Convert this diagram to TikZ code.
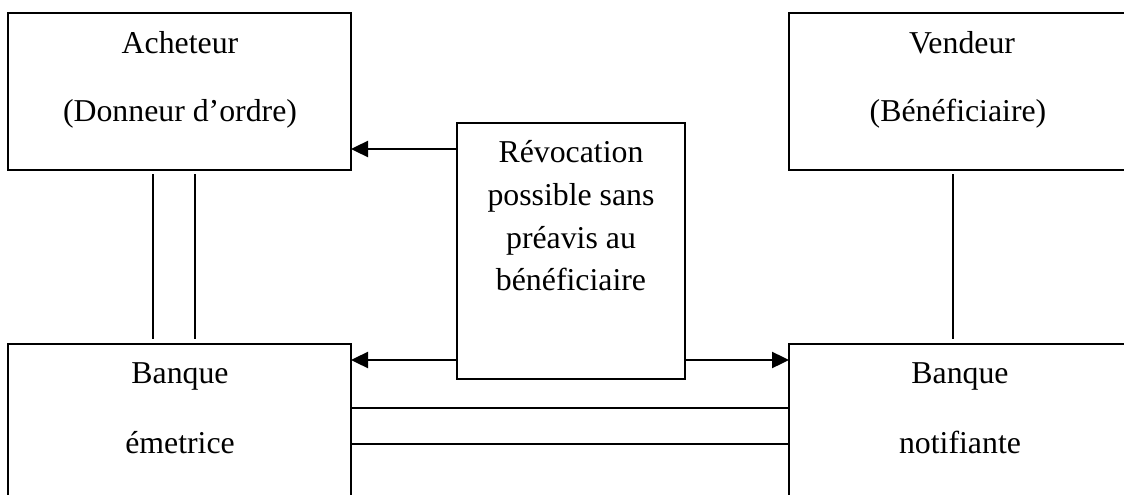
\documentclass[tikz,border=0pt]{standalone}
\usepackage{fontspec}
\setmainfont{Liberation Serif}
\usetikzlibrary{arrows.meta}

\begin{document}
\begin{tikzpicture}[x=1pt, y=-1pt,
    box/.style={draw, line width=2pt, rectangle, inner sep=0pt, outer sep=0pt},
    midbox/.style={draw, line width=1.6pt, rectangle, inner sep=0pt, outer sep=0pt},
    lbl/.style={font=\fontsize{31.8}{42.7}\selectfont, inner sep=0pt, anchor=base},
    link/.style={line width=1.4pt},
    revoke/.style={line width=2.4pt, -{Triangle[length=17pt, width=16pt]}}]
  \useasboundingbox (0,0) rectangle (1124,495);
  \clip (0,0) rectangle (1124,495);

  % parties and banks (the right and lower boxes run past the frame)
  \node[box, minimum width=343pt, minimum height=157pt] (ach)   at (179.5, 91.5) {};
  \node[box, minimum width=351pt, minimum height=157pt] (vend)  at (964.5, 91.5) {};
  \node[box, minimum width=343pt, minimum height=166pt] (eme)   at (179.5, 427)  {};
  \node[box, minimum width=351pt, minimum height=166pt] (notif) at (964.5, 427)  {};
  \node[midbox, minimum width=228pt, minimum height=256pt] (rev) at (571, 251) {};

  % box texts
  \node[lbl] (achA) at (180, 53)  {Acheteur};
  \node[lbl] (achB) at (180, 121) {(Donneur d’ordre)};
  \node[lbl] (venA) at (962, 53)  {Vendeur};
  \node[lbl] (venB) at (958, 121) {(Bénéficiaire)};
  \node[lbl] (emeA) at (180, 383) {Banque};
  \node[lbl] (emeB) at (180, 453) {émetrice};
  \node[lbl] (notA) at (960, 383) {Banque};
  \node[lbl] (notB) at (960, 453) {notifiante};
  \node[font=\fontsize{31.8}{42.7}\selectfont, align=center, inner sep=0pt]
    (revtxt) at (571, 216) {Révocation\\possible sans\\préavis au\\bénéficiaire};

  % buyer -- issuing bank (double line)
  \draw[link, shorten <=4pt, shorten >=5pt] (ach.south -| 153,0) -- (eme.north -| 153,0);
  \draw[link, shorten <=4pt, shorten >=5pt] (ach.south -| 195,0) -- (eme.north -| 195,0);
  % seller -- notifying bank
  \draw[link, shorten <=4pt, shorten >=5pt] (vend.south -| 953,0) -- (notif.north -| 953,0);
  % issuing bank -- notifying bank (double line)
  \draw[link] (eme.east |- 0,408) -- (notif.west |- 0,408);
  \draw[link] (eme.east |- 0,444) -- (notif.west |- 0,444);

  % revocation arrows
  \draw[revoke] (rev.west |- 0,149) -- (ach.east |- 0,149);
  \draw[revoke] (rev.west |- 0,360) -- (eme.east |- 0,360);
  \draw[revoke] (rev.east |- 0,360) -- (notif.west |- 0,360);
\end{tikzpicture}
\end{document}
